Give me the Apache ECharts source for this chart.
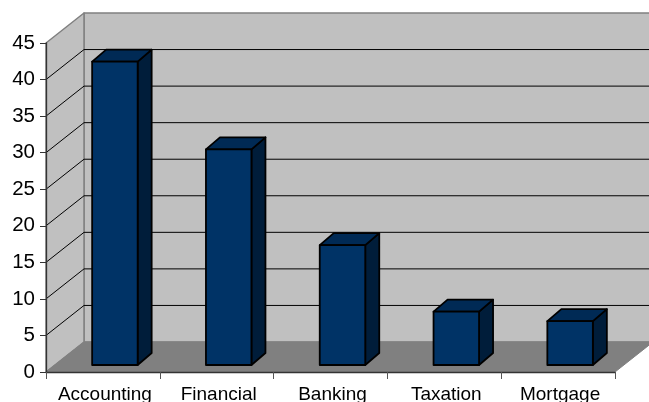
<!DOCTYPE html>
<html><head><meta charset="utf-8">
<style>html,body{margin:0;padding:0;background:#fff}#c{width:649px;height:402px}</style>
<script src="https://cdn.jsdelivr.net/npm/echarts@6/dist/echarts.min.js"></script>
</head><body><div id="c"></div>
<script>
const categories = ['Accounting','Financial','Banking','Taxation','Mortgage'];
const values = [41.5,29.5,16.4,7.3,6];
const gridValues = [5,10,15,20,25,30,35,40];
const DEPTH_X = 38, DEPTH_Y = 30;      // projected depth of the chart box
const BAR_DX = 12, BAR_DY = 7;         // offset of bar front from the axis plane
const BAR_W = 45.5, BAR_SIDE_X = 14, BAR_SIDE_Y = 12;
const font = '"Liberation Sans", Arial, sans-serif';
const chart = echarts.init(document.getElementById('c'), null, {renderer:'canvas'});
const poly = (points, fill, stroke, lw) => ({type:'polygon', shape:{points}, style:{fill, stroke, lineWidth:lw, lineJoin:'round'}});
chart.setOption({
  animation:false, backgroundColor:'#fff',
  grid:{left:46,right:34,top:43,bottom:30,containLabel:false,outerBoundsMode:'none'},
  xAxis:{type:'category',data:categories,z:10,
    axisLine:{show:true,lineStyle:{color:'#333',width:1.3}},
    axisTick:{show:true,alignWithLabel:false,length:7,lineStyle:{color:'#555',width:1}},
    axisLabel:{color:'#000',fontFamily:font,fontSize:19,margin:13,interval:0,padding:[0,0,0,4]},splitLine:{show:false}},
  yAxis:{type:'value',min:0,max:45,interval:5,z:10,
    axisLine:{show:true,lineStyle:{color:'#333',width:1.3}},
    axisTick:{show:true,length:6,lineStyle:{color:'#333',width:1}},
    axisLabel:{color:'#000',fontFamily:font,fontSize:20.5,margin:11,padding:[0,0,5,0]},splitLine:{show:false}},
  series:[
    {type:'custom',z:1,silent:true,clip:false,data:[0],encode:{x:[],y:[]},
     renderItem(p,api){
       const bl=api.coord([0,0]), band=api.size([1,0])[0];
       const x0=bl[0]-band/2, y0=bl[1], x1=x0+band*categories.length, yT=api.coord([0,45])[1];
       const dx=DEPTH_X, dy=DEPTH_Y;
       return {type:'group',children:[
         poly([[x0+dx,yT-dy],[x1+dx,yT-dy],[x1+dx,y0-dy],[x0+dx,y0-dy]],'#C0C0C0','#808080',1.5),
         poly([[x0,yT],[x0+dx,yT-dy],[x0+dx,y0-dy],[x0,y0]],'#C0C0C0','#808080',1.5),
         poly([[x0,y0],[x0+dx,y0-dy],[x1+dx,y0-dy],[x1,y0]],'#808080','#808080',1)
       ]};
     }},
    {type:'custom',z:2,silent:true,clip:false,data:gridValues.map(v=>[0,v]),
     renderItem(p,api){
       const c=api.coord([0,api.value(1)]), band=api.size([1,0])[0];
       const x0=c[0]-band/2, x1=x0+band*categories.length, y=c[1];
       return {type:'polyline',shape:{points:[[x0,y],[x0+DEPTH_X,y-DEPTH_Y],[x1+DEPTH_X,y-DEPTH_Y]]},
         style:{fill:'none',stroke:'#000',lineWidth:1}};
     }},
    {type:'custom',z:3,silent:true,clip:false,data:values.map((v,i)=>[i,v]),
     renderItem(p,api){
       const b=api.coord([api.value(0),0]), t=api.coord([api.value(0),api.value(1)]);
       const l=b[0]+BAR_DX-BAR_W/2, r=l+BAR_W, by=b[1]-BAR_DY, ty=t[1]-BAR_DY;
       const sx=BAR_SIDE_X, sy=BAR_SIDE_Y;
       return {type:'group',children:[
         poly([[r,ty],[r+sx,ty-sy],[r+sx,by-sy],[r,by]],'#001D3A','#000',1.8),
         poly([[l,ty],[l+sx,ty-sy],[r+sx,ty-sy],[r,ty]],'#002A55','#000',1.8),
         poly([[l,ty],[r,ty],[r,by],[l,by]],'#003366','#000',1.8)
       ]};
     }}
  ]
});
</script></body></html>
